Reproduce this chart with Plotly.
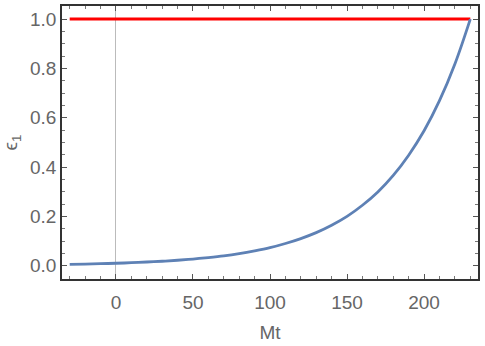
import plotly.graph_objects as go

# values
mt = [-30, -20, -10, 0, 10, 20, 30, 40, 50, 60, 70, 80, 90, 100, 110, 120,
      130, 140, 150, 160, 170, 180, 190, 200, 210, 220, 230]
eps1 = [0.0054, 0.0066, 0.008, 0.0098, 0.012, 0.015, 0.018, 0.022, 0.027,
        0.033, 0.040, 0.049, 0.060, 0.073, 0.090, 0.110, 0.134, 0.164, 0.200,
        0.245, 0.299, 0.366, 0.448, 0.547, 0.669, 0.818, 1.0]
limit_x = [-30, 230]
limit_y = [1.0, 1.0]

fig = go.Figure()

# Reference level
fig.add_trace(
    go.Scatter(
        x=limit_x,
        y=limit_y,
        mode="lines",
        line=dict(color="#FF0000", width=3),
        showlegend=False,
    )
)

# epsilon_1 curve
fig.add_trace(
    go.Scatter(
        x=mt,
        y=eps1,
        mode="lines",
        line=dict(color="#5E81B5", width=2.8, shape="spline"),
        showlegend=False,
    )
)

label_font = dict(family="Liberation Sans", size=19, color="#666666")

axis_common = dict(
    showgrid=False,
    showline=True,
    linecolor="#333333",
    linewidth=1.5,
    mirror="allticks",
    ticks="inside",
    ticklen=5,
    tickcolor="#555555",
    tickfont=label_font,
    automargin=False,
)

fig.update_layout(
    width=485,
    height=346,
    plot_bgcolor="white",
    paper_bgcolor="white",
    margin=dict(l=62, r=7, t=6, b=67),
    xaxis=dict(
        **axis_common,
        range=[-35, 235],
        tickvals=[0, 50, 100, 150, 200],
        minor=dict(dtick=10, tick0=0, ticks="inside", ticklen=3, tickcolor="#777777"),
        zeroline=True,
        zerolinecolor="#BBBBBB",
        zerolinewidth=1,
        ticklabelstandoff=5,
        title=dict(text="Mt", font=label_font, standoff=14),
    ),
    yaxis=dict(
        **axis_common,
        range=[-0.054, 1.053],
        tickvals=[0.0, 0.2, 0.4, 0.6, 0.8, 1.0],
        tickformat=".1f",
        minor=dict(dtick=0.05, tick0=0, ticks="inside", ticklen=3, tickcolor="#777777"),
        zeroline=False,
        title=dict(text="ϵ<sub>1</sub>", font=label_font, standoff=10),
    ),
)

# drop the browser's default 8px body margin so the figure sits at the corner
fig.write_html(
    "out.html",
    config={"displayModeBar": False},
    post_script="document.body.style.margin = '0';",
)
